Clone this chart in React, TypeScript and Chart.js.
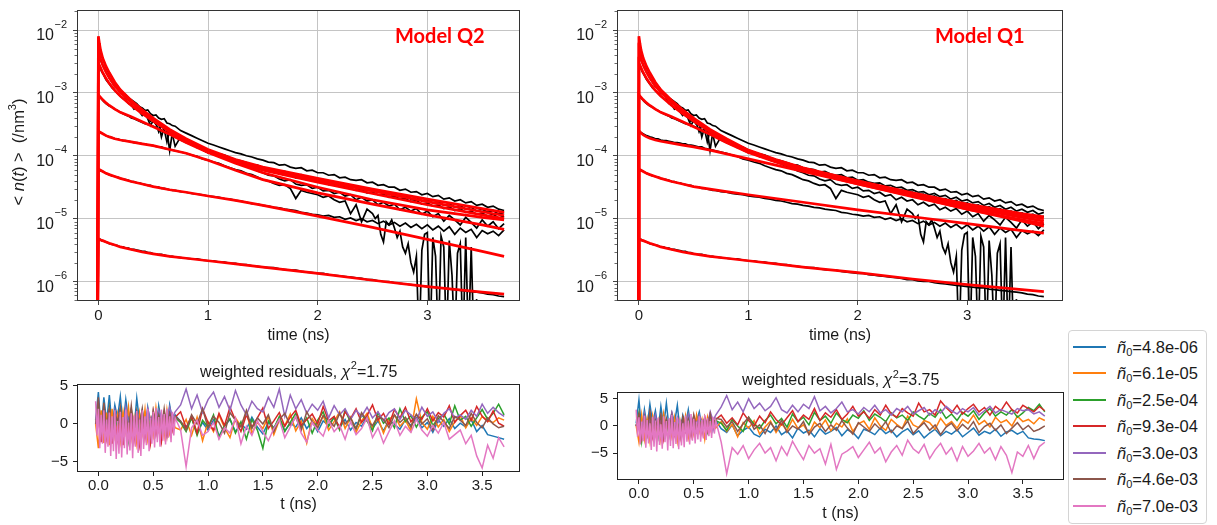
import React, { useEffect, useRef } from 'react';
import { Chart, registerables } from 'chart.js';

Chart.register(...registerables);

const FONT = "'Liberation Sans', Arial, Helvetica, sans-serif";
const INK = '#1a1a1a';

// ---------- series ----------
const seriesLabels = ['4.8e-06', '6.1e-05', '2.5e-04', '9.3e-04', '3.0e-03', '4.6e-03', '7.0e-03'];
const seriesColors = ['#1f77b4', '#ff7f0e', '#2ca02c', '#d62728', '#9467bd', '#8c564b', '#e377c2'];

// ---------- time grids (ns) ----------
const tLate = [0.75, 0.8, 0.85, 0.9, 0.95, 1, 1.05, 1.1, 1.15, 1.2, 1.25, 1.3, 1.35, 1.4, 1.45, 1.5, 1.55, 1.6, 1.65, 1.7,
  1.75, 1.8, 1.85, 1.9, 1.95, 2, 2.05, 2.1, 2.15, 2.2, 2.25, 2.3, 2.35, 2.4, 2.45, 2.5, 2.55, 2.6, 2.65, 2.7,
  2.75, 2.8, 2.85, 2.9, 2.95, 3, 3.05, 3.1, 3.15, 3.2, 3.25, 3.3, 3.35, 3.4, 3.45, 3.5, 3.55, 3.6, 3.65, 3.7];
const tObsEarly = [-0.01, 0, 0.01, 0.02, 0.03, 0.05, 0.07, 0.1, 0.125, 0.15, 0.175, 0.2, 0.225, 0.25, 0.275, 0.3,
  0.325, 0.35, 0.375, 0.4, 0.425, 0.45, 0.475, 0.5, 0.525, 0.55, 0.575, 0.6, 0.625, 0.65, 0.675, 0.7];
const tObs3Tail = [2.5, 2.525, 2.55, 2.575, 2.6, 2.625, 2.65, 2.675, 2.7, 2.725, 2.75, 2.775, 2.8, 2.825, 2.85, 2.875,
  2.9, 2.925, 2.95, 2.975, 3.0, 3.025, 3.05, 3.075, 3.1, 3.125, 3.15, 3.175, 3.2, 3.225, 3.25, 3.275, 3.3, 3.325,
  3.35, 3.375, 3.4, 3.425, 3.45, 3.475];
const tResEarly = [-0.025, 0, 0.025, 0.05, 0.075, 0.1, 0.125, 0.15, 0.175, 0.2, 0.225, 0.25, 0.275, 0.3, 0.325,
  0.35, 0.375, 0.4, 0.425, 0.45, 0.475, 0.5, 0.525, 0.55, 0.575, 0.6, 0.625, 0.65, 0.675, 0.7];
const tPinkEarly = [-0.025, -0.0125, 0, 0.0125, 0.025, 0.0375, 0.05, 0.0625, 0.075, 0.0875, 0.1, 0.1125, 0.125, 0.1375,
  0.15, 0.1625, 0.175, 0.1875, 0.2, 0.2125, 0.225, 0.2375, 0.25, 0.2625, 0.275, 0.2875, 0.3, 0.3125, 0.325, 0.3375,
  0.35, 0.3625, 0.375, 0.3875, 0.4, 0.4125, 0.425, 0.4375, 0.45, 0.4625, 0.475, 0.4875, 0.5, 0.5125, 0.525, 0.5375,
  0.55, 0.5625, 0.575, 0.5875, 0.6, 0.6125, 0.625, 0.6375, 0.65, 0.6625, 0.675, 0.6875, 0.7];
const tFit = [-0.008, 0, 0.01, 0.02, 0.04, 0.07, 0.1, 0.15, 0.2, 0.3, 0.4, 0.5, 0.65, 0.8, 1.0, 1.25, 1.5, 2.0, 2.5, 3.0, 3.5, 3.7];
const tObs = [...tObsEarly, ...tLate];
const tObs3 = [...tObsEarly, ...tLate.slice(0, 35), ...tObs3Tail];
const tRes = [...tResEarly, ...tLate];
const tResPink = [...tPinkEarly, ...tLate];

// ---------- measured <n(t)>, log10(/nm^3) ----------
const obs1 = [-7, -5.31, -5.33, -5.33, -5.35, -5.36, -5.37, -5.40, -5.41, -5.42, -5.43, -5.45, -5.45, -5.47, -5.47, -5.49, -5.49, -5.50, -5.51, -5.52, -5.52, -5.54, -5.54, -5.56, -5.56, -5.57, -5.57, -5.58, -5.59, -5.60, -5.60, -5.61,
  -5.62, -5.63, -5.64, -5.64, -5.66, -5.67, -5.67, -5.69, -5.69, -5.71, -5.71, -5.73, -5.73, -5.75, -5.76, -5.77, -5.78, -5.78, -5.80, -5.81,
  -5.82, -5.82, -5.84, -5.85, -5.86, -5.87, -5.87, -5.89, -5.90, -5.91, -5.92, -5.93, -5.94, -5.95, -5.97, -5.97, -5.99, -6.00, -6.00, -6.02,
  -6.03, -6.04, -6.05, -6.06, -6.07, -6.08, -6.09, -6.10, -6.10, -6.12, -6.13, -6.14, -6.15, -6.16, -6.17, -6.18, -6.20, -6.21, -6.23, -6.24];
const obs2 = [-7, -4.22, -4.23, -4.24, -4.24, -4.26, -4.28, -4.30, -4.32, -4.33, -4.34, -4.36, -4.37, -4.38, -4.39, -4.41, -4.41, -4.43, -4.43, -4.45, -4.46, -4.47, -4.47, -4.49, -4.50, -4.50, -4.52, -4.52, -4.53, -4.54, -4.55, -4.55,
  -4.57, -4.58, -4.60, -4.61, -4.62, -4.64, -4.65, -4.66, -4.68, -4.69, -4.71, -4.72, -4.74, -4.76, -4.77, -4.79, -4.80, -4.82, -4.83, -4.85,
  -4.86, -4.87, -4.90, -4.91, -4.93, -4.94, -4.96, -4.95, -4.98, -4.97, -5.01, -4.99, -5.03, -5.00, -5.05, -5.03, -5.08, -5.04, -5.10, -5.06,
  -5.12, -5.07, -5.14, -5.09, -5.16, -5.10, -5.18, -5.12, -5.20, -5.13, -5.25, -5.15, -5.22, -5.17, -5.30, -5.19, -5.24, -5.20, -5.27, -5.18];
const obs3 = [-7, -3.60, -3.62, -3.63, -3.64, -3.66, -3.68, -3.70, -3.71, -3.73, -3.73, -3.75, -3.76, -3.76, -3.77, -3.78, -3.79, -3.79, -3.80, -3.81, -3.81, -3.83, -3.83, -3.84, -3.85, -3.86, -3.86, -3.88, -3.89, -3.90, -3.91, -3.92,
  -3.94, -3.96, -3.99, -4.01, -4.05, -4.07, -4.10, -4.12, -4.16, -4.19, -4.22, -4.24, -4.28, -4.30, -4.34, -4.38, -4.40, -4.44, -4.47, -4.46,
  -4.52, -4.68, -4.55, -4.58, -4.60, -4.62, -4.66, -4.64, -4.70, -4.74, -4.72, -4.92, -4.78, -5.05, -4.85,
  -4.92, -5.00, -4.95, -5.25, -5.37, -5.05, -5.10, -5.02, -5.15, -5.30, -5.20, -5.45, -5.55, -5.40, -5.70, -5.85, -5.60, -7, -5.50, -5.25,
  -5.22, -7, -5.30, -5.60, -7, -5.28, -5.45, -7, -5.35, -5.90, -7, -5.55, -5.40, -7, -5.30, -7, -5.45, -7, -6.28, null];
const obs4 = [-7, -3.03, -3.06, -3.08, -3.10, -3.14, -3.17, -3.21, -3.23, -3.26, -3.28, -3.31, -3.33, -3.35, -3.37, -3.40, -3.41, -3.43, -3.45, -3.47, -3.49, -3.50, -3.51, -3.53, -3.55, -3.57, -3.59, -3.62, -3.63, -3.65, -3.68, -3.70,
  -3.75, -3.79, -3.83, -3.86, -3.91, -3.95, -3.97, -4.01, -4.03, -4.07, -4.10, -4.13, -4.17, -4.20, -4.24, -4.27, -4.31, -4.32, -4.37, -4.40,
  -4.38, -4.45, -4.47, -4.46, -4.52, -4.50, -4.56, -4.55, -4.60, -4.58, -4.64, -4.62, -4.70, -4.66, -4.72, -4.70, -4.78, -4.74, -4.80, -4.77,
  -4.86, -4.82, -4.88, -4.84, -4.93, -4.88, -4.97, -4.92, -5.04, -4.95, -5.02, -5.10, -4.98, -5.06, -5.15, -5.02, -5.12, -5.05, -5.16, -5.08];
const obs5 = [-7, -2.54, -2.58, -2.62, -2.66, -2.72, -2.79, -2.86, -2.92, -2.96, -3.01, -3.05, -3.09, -3.11, -3.17, -3.19, -3.26, -3.24, -3.30, -3.36, -3.33, -3.41, -3.52, -3.44, -3.50, -3.48, -3.70, -3.55, -3.60, -3.92, -3.63, -3.70,
  -3.72, -3.79, -3.80, -3.87, -3.88, -3.95, -3.96, -4.01, -4.02, -4.07, -4.08, -4.12, -4.14, -4.16, -4.20, -4.21, -4.25, -4.26, -4.28, -4.31,
  -4.30, -4.35, -4.34, -4.38, -4.39, -4.42, -4.41, -4.46, -4.45, -4.49, -4.50, -4.52, -4.55, -4.54, -4.59, -4.58, -4.62, -4.61, -4.66, -4.64,
  -4.69, -4.68, -4.73, -4.71, -4.77, -4.75, -4.80, -4.78, -4.84, -4.81, -4.87, -4.84, -4.90, -4.88, -4.93, -4.91, -4.96, -4.93, -4.99, -4.96];
const obs6 = [-7, -2.36, -2.42, -2.48, -2.52, -2.60, -2.67, -2.77, -2.83, -2.90, -2.93, -3.00, -3.03, -3.08, -3.10, -3.16, -3.18, -3.24, -3.22, -3.30, -3.33, -3.36, -3.45, -3.42, -3.48, -3.62, -3.52, -3.58, -3.78, -3.60, -3.66, -3.85,
  -3.70, -3.75, -3.78, -3.84, -3.86, -3.91, -3.94, -3.97, -3.99, -4.03, -4.06, -4.08, -4.11, -4.14, -4.15, -4.19, -4.21, -4.22, -4.26, -4.25,
  -4.29, -4.31, -4.30, -4.35, -4.34, -4.39, -4.38, -4.42, -4.44, -4.43, -4.48, -4.47, -4.51, -4.50, -4.55, -4.54, -4.58, -4.57, -4.62, -4.60,
  -4.65, -4.63, -4.69, -4.66, -4.72, -4.70, -4.75, -4.73, -4.79, -4.76, -4.82, -4.79, -4.85, -4.82, -4.88, -4.85, -4.90, -4.87, -4.93, -4.90];
const obs7 = [-7, -2.12, -2.25, -2.35, -2.42, -2.50, -2.60, -2.70, -2.77, -2.84, -2.89, -2.95, -3.00, -3.03, -3.08, -3.11, -3.14, -3.17, -3.22, -3.24, -3.28, -3.27, -3.33, -3.36, -3.35, -3.40, -3.42, -3.41, -3.48, -3.49, -3.52, -3.53,
  -3.60, -3.64, -3.68, -3.72, -3.76, -3.80, -3.83, -3.86, -3.89, -3.92, -3.95, -3.97, -4.00, -4.02, -4.05, -4.07, -4.10, -4.11, -4.15, -4.14,
  -4.18, -4.20, -4.19, -4.24, -4.23, -4.27, -4.27, -4.31, -4.30, -4.35, -4.34, -4.38, -4.39, -4.38, -4.43, -4.42, -4.47, -4.46, -4.50, -4.50,
  -4.55, -4.53, -4.58, -4.57, -4.62, -4.60, -4.65, -4.63, -4.69, -4.67, -4.72, -4.70, -4.75, -4.73, -4.79, -4.77, -4.82, -4.80, -4.85, -4.87];

// ---------- fitted curves, log10(/nm^3) ----------
const fitQ2_1 = [-7, -5.32, -5.33, -5.34, -5.35, -5.37, -5.39, -5.42, -5.45, -5.49, -5.53, -5.56, -5.60, -5.63, -5.67, -5.72, -5.77, -5.87, -5.98, -6.08, -6.17, -6.20];
const fitQ2_2 = [-7, -4.21, -4.22, -4.23, -4.25, -4.28, -4.30, -4.33, -4.36, -4.41, -4.45, -4.49, -4.54, -4.58, -4.64, -4.71, -4.79, -4.96, -5.14, -5.33, -5.52, -5.60];
const fitQ2_3 = [-7, -3.60, -3.62, -3.63, -3.65, -3.68, -3.70, -3.73, -3.75, -3.78, -3.81, -3.84, -3.90, -3.96, -4.07, -4.23, -4.38, -4.59, -4.77, -4.94, -5.10, -5.17];
const fitQ2_4 = [-7, -3.03, -3.05, -3.07, -3.11, -3.16, -3.20, -3.26, -3.31, -3.38, -3.46, -3.54, -3.66, -3.79, -3.95, -4.12, -4.27, -4.50, -4.70, -4.86, -4.98, -5.02];
const fitQ2_5 = [-7, -2.52, -2.56, -2.60, -2.68, -2.77, -2.85, -2.96, -3.05, -3.20, -3.33, -3.45, -3.62, -3.77, -3.94, -4.10, -4.23, -4.42, -4.60, -4.78, -4.94, -5.00];
const fitQ2_6 = [-7, -2.34, -2.40, -2.46, -2.56, -2.67, -2.76, -2.89, -2.99, -3.15, -3.29, -3.42, -3.60, -3.75, -3.92, -4.08, -4.20, -4.39, -4.56, -4.73, -4.89, -4.95];
const fitQ2_7 = [-7, -2.10, -2.22, -2.32, -2.45, -2.58, -2.68, -2.83, -2.95, -3.12, -3.27, -3.40, -3.58, -3.73, -3.90, -4.06, -4.18, -4.36, -4.53, -4.69, -4.84, -4.90];

const fitQ1_1 = [-7, -5.32, -5.33, -5.34, -5.35, -5.37, -5.39, -5.42, -5.45, -5.49, -5.53, -5.56, -5.60, -5.63, -5.67, -5.72, -5.77, -5.86, -5.96, -6.05, -6.13, -6.16];
const fitQ1_2 = [-7, -4.21, -4.22, -4.23, -4.25, -4.28, -4.30, -4.33, -4.36, -4.41, -4.45, -4.49, -4.53, -4.57, -4.62, -4.68, -4.74, -4.86, -4.97, -5.08, -5.19, -5.23];
const fitQ1_3 = [-7, -3.60, -3.62, -3.64, -3.67, -3.70, -3.72, -3.75, -3.77, -3.80, -3.83, -3.86, -3.91, -3.97, -4.05, -4.15, -4.25, -4.45, -4.64, -4.85, -5.04, -5.12];
const fitQ1_4 = [-7, -3.03, -3.05, -3.07, -3.11, -3.16, -3.20, -3.26, -3.31, -3.38, -3.46, -3.54, -3.66, -3.79, -3.95, -4.10, -4.23, -4.45, -4.65, -4.85, -5.02, -5.08];
const fitQ1_5 = [-7, -2.52, -2.56, -2.60, -2.68, -2.77, -2.85, -2.96, -3.05, -3.20, -3.33, -3.45, -3.62, -3.77, -3.93, -4.08, -4.21, -4.43, -4.63, -4.82, -4.98, -5.04];
const fitQ1_6 = [-7, -2.34, -2.40, -2.46, -2.56, -2.67, -2.76, -2.89, -2.99, -3.15, -3.29, -3.42, -3.60, -3.75, -3.92, -4.07, -4.20, -4.42, -4.61, -4.79, -4.95, -5.00];
const fitQ1_7 = [-7, -2.10, -2.22, -2.32, -2.45, -2.58, -2.68, -2.83, -2.95, -3.12, -3.27, -3.40, -3.58, -3.73, -3.91, -4.06, -4.19, -4.40, -4.59, -4.77, -4.92, -4.97];

// ---------- weighted residuals, model Q2 (chi2 = 1.75) ----------
const resQ2_1 = [0.5, 4.2, -1.0, 3.5, 0.2, 3.8, -0.5, 2.5, 0.8, 3.6, -0.2, 3.2, 0.5, 2.0, -0.8, 3.4, 0.3, 1.8, -1.2, 2.2, 0.0, 1.5, -1.0, 2.4, 0.2, 1.6, -0.6, 2.5, 0.4, 1.2,
  0.3, -0.5, 0.8, -1.2, 0.2, -0.8, 0.5, -1.6, -0.3, 0.6, -1.0, 0.0, -0.7, 0.9, -0.4, -1.3, 0.2, -0.5, 0.7, -0.9,
  0.1, -0.4, 0.8, -0.6, 0.3, -1.0, 0.4, -0.2, 0.9, -0.5, 0.6, -0.8, 0.2, -0.3, 1.0, -0.6, 0.4, -0.9, 0.5, 0.0,
  -0.7, 0.6, -0.2, 0.8, -0.5, 0.2, -1.1, 0.5, -0.3, 0.7, -0.6, 0.1, -0.4, 0.6, -1.0, -0.2, -1.4, -1.6, -1.8, -2.0];
const resQ2_2 = [0.0, -3.2, 1.8, -2.5, 1.5, -2.8, 2.0, -1.5, 1.2, -2.2, 1.6, -1.0, 2.2, -1.8, 0.8, -2.5, 1.4, -1.2, 1.9, -2.0, 0.6, -1.5, 2.1, -0.8, 1.0, -1.6, 1.8, -1.2, 0.5, -0.5,
  -0.8, 0.6, -1.5, 0.9, -2.2, 0.3, -1.0, 1.2, -0.5, -1.8, 0.8, -0.3, 1.5, -1.2, 0.2, -0.6, 1.0, -1.4, 0.5, -0.2,
  1.3, -0.9, 0.4, -2.5, 0.7, -0.4, 1.1, -0.8, 0.3, 1.6, -0.6, 0.9, -1.1, 0.4, 1.4, -0.5, 0.8, -1.2, 0.6, 1.2,
  -0.3, 0.5, -0.9, 3.3, 0.2, -0.7, 1.0, -0.4, 0.6, -1.0, 0.3, 1.1, -0.5, 0.8, -0.2, 1.0, 0.4, 0.2, 0.8, 0.5];
const resQ2_3 = [0.0, 2.2, -2.0, 1.5, -1.2, 2.0, -1.8, 1.0, -0.5, 1.8, -1.5, 0.8, -2.2, 1.2, -0.8, 1.6, -1.8, 0.5, -1.0, 1.4, -1.6, 0.9, -0.6, 1.7, -1.2, 0.6, -1.4, 1.1, -0.4, 0.8,
  0.2, -1.0, 0.8, -1.5, 0.5, -0.4, 1.2, -1.8, -0.2, 0.7, -1.2, 0.3, -2.0, 0.6, -0.8, -3.2, 0.4, -0.6, 1.0, -1.0,
  0.2, 1.4, -0.5, 0.8, -1.2, 0.5, 1.6, -0.3, 0.9, -0.8, 1.8, 0.2, -0.6, 1.2, 0.4, -0.9, 1.5, 0.1, 0.8, -0.5,
  2.0, 0.3, 1.1, -0.4, 0.9, 1.6, -0.2, 0.7, 1.3, 0.0, 2.4, 0.5, 1.0, -0.3, 0.8, 1.9, 0.6, 1.4, 2.6, 1.2];
const resQ2_4 = [0.0, 1.5, -2.4, 1.0, -1.8, 2.0, -2.6, 0.5, -2.0, 1.4, -2.8, 0.8, -1.5, 1.8, -2.2, 0.3, -2.7, 1.2, -1.9, 0.6, -2.5, 1.5, -1.4, 0.4, -2.3, 1.0, -1.6, 1.6, -0.8, 0.9,
  1.6, -0.5, 1.0, -1.2, 2.0, 0.2, -0.8, 1.4, -0.2, 2.2, 0.5, -1.0, 1.2, -0.4, 0.8, 2.1, -0.6, 0.4, 1.5, -0.3,
  0.9, 1.8, -0.2, 0.6, 1.3, 0.0, 2.3, 0.4, 1.0, -0.5, 1.6, 0.7, 2.0, 0.2, 1.1, 2.5, 0.5, 1.4, -0.1, 1.9,
  0.8, 2.2, 0.3, 1.2, 0.6, 2.0, 0.4, 1.5, 0.9, 2.4, 0.2, 1.1, 1.8, 0.5, 2.3, 1.0, 0.3, 1.7, 0.1, -0.3];
const resQ2_5 = [0.0, 1.2, -0.8, 2.0, -0.5, 1.5, -1.0, 1.8, 0.2, 1.0, -0.6, 2.2, 0.0, 1.4, -0.8, 1.7, 0.3, 0.9, -0.4, 2.0, 0.5, 1.2, -0.2, 1.8, 0.6, 1.4, 0.1, 2.2, 0.8, 1.6,
  2.5, 4.6, 2.0, 3.8, 1.5, 3.2, 4.2, 2.2, 3.6, 1.8, 4.4, 2.5, 1.2, 3.0, 2.0, 1.6, 3.5, 2.2, 4.6, 1.0,
  3.8, 2.0, 3.2, 1.4, 2.6, 1.8, 3.0, 0.8, 2.4, 1.2, 2.0, 0.6, 1.8, 1.0, 2.2, 0.8, 1.6, 0.4, 1.5, 2.0,
  0.6, 1.8, 1.2, 0.5, 2.2, 1.0, 1.6, 0.3, 1.4, 2.0, 0.8, 1.2, 0.6, 1.8, 1.0, 2.6, 1.4, 2.2, 1.5, 1.0];
const resQ2_6 = [0.0, 3.5, -1.5, 2.8, -0.5, 2.0, -2.0, 1.5, 0.2, 2.2, -1.6, 1.0, -0.8, 2.4, -1.2, 1.6, -0.4, 2.0, -1.0, 0.8, -1.4, 1.8, 0.0, 1.2, -0.6, 2.0, -0.8, 1.4, 0.2, 1.0,
  0.4, -0.8, 1.2, 0.0, 2.0, -0.5, 1.0, 0.2, -1.2, 1.5, 0.5, -0.4, 1.8, -0.6, 0.8, 0.0, 1.2, -1.0, 0.6, 1.4,
  -0.2, 0.9, -0.8, 1.6, 0.3, -0.5, 1.1, 0.5, -0.3, 1.4, 0.0, 0.8, -0.6, 1.5, 0.4, -0.2, 1.0, 0.6, -0.5, 1.2,
  0.2, 0.9, -0.4, 1.3, 0.0, 0.7, -0.8, 1.1, 0.3, -0.6, 1.0, 0.5, -0.2, 1.4, 0.2, -0.5, 0.8, 0.0, -0.5, -0.3];
const resQ2_7 = [3.0, -1.5, 2.0, -3.2, 1.2, -2.6, 1.8, -3.8, 0.6, -3.0, 1.5, -4.2, 1.0, -3.6, 1.8, -4.6, 0.4, -3.9, 1.6, -4.4,
  0.9, -3.2, 1.9, -4.0, 0.2, -3.5, 1.4, -4.5, 1.1, -3.0, 1.7, -3.8, 0.6, -4.2, 1.8, -3.3, 1.0, -2.8, 2.0, -3.6,
  0.8, -2.6, 1.6, -3.1, 2.1, -2.4, 0.9, -3.0, 1.9, -2.2, 1.3, -2.7, 2.0, -1.8, 1.0, -2.4, 1.6, -1.5, 0.8,
  -0.8, -5.6, -0.5, 0.5, -1.5, -1.0, 0.2, -2.0, -0.5, -1.2, 0.8, -2.6, -0.3, -1.5, 0.4, -1.0, -2.2, -0.6, 0.6, -1.8,
  -0.4, 1.0, -1.2, -2.4, 0.2, -0.8, -1.6, 0.5, -1.0, -0.2, -2.0, 0.3, -1.4, -0.6, 0.8, -1.8, -0.5, -2.5, -1.0, 0.4,
  -1.5, -0.3, -1.1, 0.6, -0.8, -1.6, -0.2, -1.2, 0.2, -2.0, -1.4, -0.8, -2.6, -1.5, -4.2, -5.8, -2.8, -4.5, -1.8, -3.0];

// ---------- weighted residuals, model Q1 (chi2 = 3.75) ----------
const resQ1_1 = [0.5, 4.8, -1.0, 3.0, -0.2, 4.0, 0.5, 2.8, -0.8, 3.6, 0.0, 4.2, -0.5, 2.4, 0.6, 3.8, -1.0, 2.0, 0.2, 3.0, -0.6, 1.8, 0.8, 2.6, -0.4, 1.4, 0.0, 2.2, -0.8, 1.0,
  -0.5, -1.2, 0.2, -1.8, -0.8, -0.2, -1.5, -2.0, -0.6, -1.2, 0.0, -1.6, -0.9, -2.2, -0.4, -1.3, -0.8, -2.0, -0.5, -1.5,
  -1.0, -0.3, -1.8, -0.7, -1.2, -2.3, -0.6, -1.0, -1.6, -0.4, -1.4, -0.8, -2.0, -1.1, -0.5, -1.6, -0.9, -2.2, -1.3, -0.6,
  -1.8, -1.0, -1.5, -0.7, -2.0, -1.2, -0.4, -1.7, -1.0, -1.4, -0.6, -1.9, -1.1, -0.8, -1.5, -1.0, -2.2, -2.4, -2.5, -2.7];
const resQ1_2 = [0.0, -3.0, 2.0, -2.4, 1.2, -2.8, 1.8, -1.6, 1.0, -2.6, 2.2, -1.2, 0.8, -2.0, 1.5, -2.8, 1.0, -1.4, 1.8, -2.2, 0.4, -1.6, 2.0, -1.0, 1.2, -2.4, 1.6, -0.8, 1.0, -0.4,
  0.8, -1.0, 0.3, -2.0, 0.6, -0.4, 1.0, -1.5, -0.2, 0.9, -1.2, 0.4, -0.8, 1.2, -0.5, 0.2, -1.4, 0.7, -0.3, 1.1,
  -0.9, 0.5, -0.2, 1.3, -1.0, 0.4, 0.9, -0.6, 1.5, 0.0, -0.8, 1.2, 0.3, -0.5, 1.8, 0.2, -0.3, 1.0, 0.6, -0.6,
  1.4, 0.1, 0.8, -0.4, 1.2, 0.5, 2.0, 0.3, 1.0, -0.2, 1.6, 0.6, 1.1, 0.0, 1.8, 0.8, 1.2, 0.4, 1.5, 1.0];
const resQ1_3 = [0.0, 2.4, -2.8, 1.5, -1.6, 2.0, -1.0, 1.2, -2.0, 1.8, -0.6, 1.0, -1.8, 1.6, -1.2, 0.8, -1.5, 1.4, -0.8, 2.0, -1.4, 0.6, -1.0, 1.6, -0.5, 1.2, -1.2, 0.8, -0.2, 1.0,
  0.5, -0.8, 1.2, 0.0, -1.0, 1.6, 0.3, -0.5, 1.0, 2.0, 0.4, 1.4, -0.2, 2.2, 0.8, 1.6, 0.2, 2.5, 1.0, 1.8,
  0.5, 2.4, 1.2, 0.6, 2.0, 1.4, 2.8, 1.0, 2.2, 1.6, 0.8, 2.4, 1.5, 2.0, 1.0, 2.6, 1.8, 1.2, 2.3, 1.6,
  3.0, 1.4, 2.2, 1.0, 2.5, 1.8, 2.8, 1.2, 2.4, 3.2, 1.8, 2.6, 2.0, 3.0, 1.6, 2.4, 3.4, 2.8, 4.0, 2.6];
const resQ1_4 = [0.0, 1.8, -2.2, 1.2, -1.5, 2.2, -2.0, 0.8, -1.2, 1.6, -2.4, 1.0, -1.0, 2.0, -1.6, 0.6, -2.2, 1.4, -1.0, 0.8, -1.8, 1.8, -0.6, 1.0, -1.4, 1.6, -0.8, 2.2, 0.4, 1.2,
  2.0, 0.5, 1.5, 0.2, 2.4, 1.0, 0.0, 1.8, 0.6, 2.6, 1.2, 0.2, 1.5, 2.8, 0.8, 2.0, 1.2, 3.2, 1.0, 2.4,
  1.6, 3.0, 1.2, 2.2, 3.6, 1.8, 2.6, 1.4, 3.0, 2.0, 3.8, 2.2, 1.6, 3.2, 2.4, 1.8, 4.2, 2.6, 3.0, 2.0,
  4.6, 3.4, 2.4, 3.8, 2.2, 3.2, 4.0, 2.6, 3.4, 2.0, 3.6, 2.8, 4.4, 3.0, 2.4, 3.8, 3.2, 2.6, 3.6, 2.8];
const resQ1_5 = [0.0, 1.6, -0.6, 2.2, -0.8, 1.4, 0.0, 2.0, -1.0, 1.8, -0.4, 1.2, 0.4, 2.4, -0.5, 1.6, 0.2, 1.0, -0.8, 2.2, 0.5, 1.4, -0.2, 2.0, 0.8, 1.2, 0.2, 2.6, 1.0, 2.0,
  3.5, 5.6, 3.0, 4.4, 2.6, 5.0, 3.2, 4.2, 2.8, 3.6, 5.2, 3.0, 2.4, 3.8, 2.6, 4.0, 3.2, 5.4, 2.8, 3.6,
  2.4, 3.2, 4.4, 2.6, 3.0, 2.2, 3.4, 2.6, 3.8, 2.4, 3.0, 2.0, 3.2, 2.6, 3.6, 2.2, 2.8, 3.4, 2.0, 3.0,
  2.4, 3.6, 2.8, 2.2, 3.2, 2.6, 3.4, 2.0, 2.8, 3.6, 2.4, 3.0, 2.6, 2.2, 3.2, 2.8, 3.0, 2.2, 2.6, 1.8];
const resQ1_6 = [0.0, 2.2, -2.0, 1.6, -1.0, 2.4, -1.6, 1.0, -0.4, 2.0, -1.8, 1.4, -0.8, 1.8, -1.2, 0.6, -2.0, 1.6, -0.6, 1.2, -1.4, 2.0, -0.8, 1.0, -1.0, 1.6, 0.0, 2.2, -0.4, 1.4,
  1.2, -0.2, 0.8, -1.0, 0.4, 1.6, -0.6, 0.2, -1.4, 0.6, -0.8, 1.0, -1.2, 0.0, -0.6, 0.8, -1.6, -0.2, 0.5, -1.0,
  0.2, -0.8, 1.0, -0.4, -1.5, 0.6, -0.2, -1.0, 0.4, -0.6, 0.8, -1.2, 0.0, -0.5, 0.9, -1.4, -0.3, 0.6, -0.8, 0.2,
  -1.6, -0.2, 0.5, -0.9, 0.3, -0.6, 0.8, -1.2, -0.1, 0.5, -0.8, 0.2, -1.4, -0.4, 0.6, -0.7, 0.1, -1.0, -0.6, 0.0];
const resQ1_7 = [3.0, -2.0, 1.6, -3.4, 0.8, -2.8, 1.9, -4.0, 1.1, -3.2, 0.5, -4.4, 1.7, -3.8, 1.0, -4.7, 1.5, -3.5, 0.3, -4.2,
  1.8, -3.0, 0.9, -4.5, 1.4, -3.7, 2.0, -4.1, 0.7, -3.3, 1.6, -4.3, 1.2, -3.6, 0.5, -3.9, 1.9, -2.9, 1.0, -3.4,
  2.2, -2.7, 1.3, -3.2, 0.8, -2.5, 1.8, -2.9, 1.1, -2.3, 2.0, -2.6, 1.4, -1.9, 0.9, -2.2, 1.7, -1.4, 1.0,
  -3.0, -8.8, -4.0, -5.2, -3.6, -6.0, -4.4, -3.2, -5.0, -4.0, -6.4, -3.8, -5.4, -2.8, -4.6, -6.2, -3.6, -5.0, -4.2, -7.0,
  -3.4, -8.0, -5.2, -4.6, -3.8, -5.8, -4.4, -3.0, -5.0, -4.0, -6.6, -4.8, -3.6, -5.4, -2.6, -4.2, -5.0, -3.4, -6.0, -4.4,
  -3.2, -5.2, -4.0, -6.4, -3.8, -5.6, -4.6, -3.2, -5.0, -4.0, -6.2, -3.8, -5.4, -8.6, -4.8, -5.6, -3.6, -6.0, -3.8, -3.0];

// ---------- axis ticks ----------
const xTicksTop = [0, 1, 2, 3];
const yDecades = [-2, -3, -4, -5, -6];
const xTicksRes = [0, 0.5, 1, 1.5, 2, 2.5, 3, 3.5];
const yTicksRes = [-5, 0, 5];

const obsAll = [obs1, obs2, obs3, obs4, obs5, obs6, obs7];
const obsTimes = [tObs, tObs, tObs3, tObs, tObs, tObs, tObs];
const fitsQ2 = [fitQ2_1, fitQ2_2, fitQ2_3, fitQ2_4, fitQ2_5, fitQ2_6, fitQ2_7];
const fitsQ1 = [fitQ1_1, fitQ1_2, fitQ1_3, fitQ1_4, fitQ1_5, fitQ1_6, fitQ1_7];
const resQ2 = [resQ2_1, resQ2_2, resQ2_3, resQ2_4, resQ2_5, resQ2_6, resQ2_7];
const resQ1 = [resQ1_1, resQ1_2, resQ1_3, resQ1_4, resQ1_5, resQ1_6, resQ1_7];
const resTimes = [tRes, tRes, tRes, tRes, tRes, tRes, tResPink];

const logPts = (ts: number[], vs: (number | null)[]) =>
  ts.map((t, i) => ({ x: t, y: vs[i] == null ? null : Math.pow(10, vs[i] as number) }));
const linPts = (ts: number[], vs: (number | null)[]) =>
  ts.map((t, i) => ({ x: t, y: vs[i] == null ? null : vs[i] }));

// ---------- plugins ----------
const framePlugin = {
  id: 'frame',
  afterDraw(chart: any, _a: any, opts: any) {
    const { ctx, chartArea: a } = chart;
    ctx.save();
    ctx.strokeStyle = (opts && opts.color) || '#262626';
    ctx.lineWidth = 1;
    const l = Math.round(a.left), t = Math.round(a.top), r = Math.round(a.right), b = Math.round(a.bottom);
    ctx.strokeRect(l + 0.5, t + 0.5, r - l - 1, b - t - 1);
    ctx.restore();
  },
};

const logLabelPlugin = {
  id: 'logLabels',
  afterDraw(chart: any) {
    const ys = chart.scales.y;
    const ctx = chart.ctx;
    const xr = chart.chartArea.left - 10;
    ctx.save();
    ctx.fillStyle = INK;
    ctx.textAlign = 'right';
    ctx.textBaseline = 'alphabetic';
    yDecades.forEach((e) => {
      const y = ys.getPixelForValue(Math.pow(10, e));
      const sup = '\u2212' + Math.abs(e);
      ctx.font = `11px ${FONT}`;
      const sw = ctx.measureText(sup).width;
      ctx.fillText(sup, xr, y - 2.5);
      ctx.font = `16px ${FONT}`;
      ctx.fillText('10', xr - sw - 0.5, y + 10);
    });
    ctx.restore();
  },
};

const minorTickPlugin = {
  id: 'minorTicks',
  afterDraw(chart: any) {
    const ys = chart.scales.y;
    const ctx = chart.ctx;
    const a = chart.chartArea;
    ctx.save();
    ctx.strokeStyle = '#444';
    ctx.lineWidth = 0.8;
    for (let e = -7; e <= -2; e++) {
      for (let k = 2; k <= 9; k++) {
        const v = k * Math.pow(10, e);
        if (v < ys.min || v > ys.max) continue;
        const y = Math.round(ys.getPixelForValue(v)) + 0.5;
        ctx.beginPath();
        ctx.moveTo(a.left - 2.5, y);
        ctx.lineTo(a.left, y);
        ctx.stroke();
      }
    }
    ctx.restore();
  },
};

// rotated y-axis title "< n(t) >  (/nm^3)" with italic n, t and superscript 3
const yTitlePlugin = {
  id: 'yTitle',
  afterDraw(chart: any, _a: any, opts: any) {
    if (!opts || !opts.show) return;
    const ctx = chart.ctx;
    const n = `16.5px ${FONT}`;
    const it = `italic 16.5px ${FONT}`;
    const sm = `11px ${FONT}`;
    const parts = [
      { t: '< ', f: n, dy: 0 }, { t: 'n', f: it, dy: 0 }, { t: '(', f: n, dy: 0 }, { t: 't', f: it, dy: 0 },
      { t: ') >  (/nm', f: n, dy: 0 }, { t: '3', f: sm, dy: -6 }, { t: ')', f: n, dy: 0 },
    ];
    ctx.save();
    let total = 0;
    const widths = parts.map((p) => { ctx.font = p.f; const w = ctx.measureText(p.t).width; total += w; return w; });
    ctx.translate(opts.x, opts.y);
    ctx.rotate(-Math.PI / 2);
    ctx.fillStyle = INK;
    ctx.textBaseline = 'middle';
    ctx.textAlign = 'left';
    let x = -total / 2;
    parts.forEach((p, i) => { ctx.font = p.f; ctx.fillText(p.t, x, p.dy); x += widths[i]; });
    ctx.restore();
  },
};

const chiTitlePlugin = {
  id: 'chiTitle',
  afterDraw(chart: any, _a: any, opts: any) {
    const { ctx, chartArea: a } = chart;
    const cx = (a.left + a.right) / 2;
    const cy = opts.y;
    const p1 = 'weighted residuals, ';
    const p3 = '=' + opts.chi;
    const f = `16px ${FONT}`;
    const fi = `italic 16px ${FONT}`;
    const fs = `11px ${FONT}`;
    ctx.save();
    ctx.fillStyle = INK;
    ctx.textBaseline = 'middle';
    ctx.textAlign = 'left';
    ctx.font = f;
    const w1 = ctx.measureText(p1).width;
    const w3 = ctx.measureText(p3).width;
    ctx.font = fi;
    const w2 = ctx.measureText('\u03c7').width;
    ctx.font = fs;
    const ws = ctx.measureText('2').width;
    let x = cx - (w1 + w2 + ws + w3) / 2;
    ctx.font = f; ctx.fillText(p1, x, cy); x += w1;
    ctx.font = fi; ctx.fillText('\u03c7', x, cy); x += w2 + 0.5;
    ctx.font = fs; ctx.fillText('2', x, cy - 6); x += ws;
    ctx.font = f; ctx.fillText(p3, x, cy);
    ctx.restore();
  },
};

// ---------- configs ----------
function topConfig(fits: number[][], xMin: number, xMax: number, rightPad: number, showYTitle: boolean): any {
  const grid = { color: '#c4c4c4', lineWidth: 1, drawTicks: true, tickLength: 4, tickColor: '#444', tickWidth: 1 };
  return {
    type: 'line',
    data: {
      datasets: [
        ...fits.map((f) => ({
          data: logPts(tFit, f), borderColor: '#ff0000', borderWidth: 2.7, pointRadius: 0, order: 0, clip: 0,
        })),
        ...obsAll.map((o, i) => ({
          data: logPts(obsTimes[i], o), borderColor: '#000000', borderWidth: 1.7, pointRadius: 0, order: 1, clip: 0,
        })),
      ],
    },
    options: {
      animation: false,
      responsive: false,
      devicePixelRatio: 1,
      events: [],
      layout: { padding: { left: 0, top: 3, right: rightPad, bottom: 0 } },
      plugins: {
        legend: { display: false }, tooltip: { enabled: false }, frame: { color: '#333333' },
        yTitle: { show: showYTitle, x: 19, y: 152 },
      },
      scales: {
        x: {
          type: 'linear', min: xMin, max: xMax,
          afterBuildTicks: (s: any) => { s.ticks = xTicksTop.map((v) => ({ value: v })); },
          afterFit: (s: any) => { s.height = 49; },
          grid,
          border: { display: false },
          ticks: { color: INK, font: { family: FONT, size: 15 }, padding: 2, maxRotation: 0, autoSkip: false, callback: (v: any) => String(v) },
          title: { display: true, text: 'time (ns)', color: INK, font: { family: FONT, size: 16 }, padding: { top: 0, bottom: 4.4 } },
        },
        y: {
          type: 'logarithmic', min: Math.pow(10, -6.31), max: Math.pow(10, -1.685),
          afterBuildTicks: (s: any) => { s.ticks = yDecades.map((e) => ({ value: Math.pow(10, e) })); },
          afterFit: (s: any) => { s.width = 77; },
          grid,
          border: { display: false },
          ticks: { autoSkip: false, callback: () => '' },
        },
      },
    },
    plugins: [framePlugin, logLabelPlugin, minorTickPlugin, yTitlePlugin],
  };
}

function resConfig(series: number[][], o: any): any {
  const grid = { display: true, drawOnChartArea: false, drawTicks: true, tickLength: 4, tickColor: '#222', tickWidth: 1 };
  return {
    type: 'line',
    data: {
      datasets: series.map((s, i) => ({
        data: linPts(resTimes[i], s), borderColor: seriesColors[i], borderWidth: 1.5, pointRadius: 0, order: 7 - i, clip: 0,
      })),
    },
    options: {
      animation: false,
      responsive: false,
      devicePixelRatio: 1,
      events: [],
      layout: { padding: { left: 0, top: o.padTop, right: o.rightPad, bottom: 0 } },
      plugins: {
        legend: { display: false }, tooltip: { enabled: false },
        frame: { color: '#222222' },
        chiTitle: { y: o.titleY, chi: o.chi },
      },
      scales: {
        x: {
          type: 'linear', min: o.xMin, max: o.xMax,
          afterBuildTicks: (s: any) => { s.ticks = xTicksRes.map((v) => ({ value: v })); },
          afterFit: (s: any) => { s.height = o.xHeight; },
          grid,
          border: { display: false },
          ticks: { color: INK, font: { family: FONT, size: 15 }, padding: 1, maxRotation: 0, autoSkip: false, callback: (v: any) => Number(v).toFixed(1) },
          title: { display: true, text: 't (ns)', color: INK, font: { family: FONT, size: 16 }, padding: { top: 0, bottom: o.titlePb } },
        },
        y: {
          type: 'linear', min: o.yMin, max: o.yMax,
          afterBuildTicks: (s: any) => { s.ticks = yTicksRes.map((v) => ({ value: v })); },
          afterFit: (s: any) => { s.width = 77; },
          grid,
          border: { display: false },
          ticks: { color: INK, font: { family: FONT, size: 15 }, padding: 5, autoSkip: false, callback: (v: any) => (v < 0 ? '\u2212' + Math.abs(v) : String(v)) },
        },
      },
    },
    plugins: [framePlugin, chiTitlePlugin],
  };
}

const canvasStyle = (left: number, top: number, w: number, h: number): React.CSSProperties => ({
  position: 'absolute', left, top, width: w, height: h, display: 'block',
});

export default function App() {
  const tl = useRef<HTMLCanvasElement>(null);
  const tr = useRef<HTMLCanvasElement>(null);
  const bl = useRef<HTMLCanvasElement>(null);
  const br = useRef<HTMLCanvasElement>(null);

  useEffect(() => {
    const charts = [
      new Chart(tl.current as HTMLCanvasElement, topConfig(fitsQ2, -0.195, 3.845, 20, true)),
      new Chart(tr.current as HTMLCanvasElement, topConfig(fitsQ1, -0.2, 3.875, 17, false)),
      new Chart(bl.current as HTMLCanvasElement, resConfig(resQ2, {
        padTop: 39, rightPad: 20, xHeight: 53, xMin: -0.195, xMax: 3.845, yMin: -6.32, yMax: 5.26, titleY: 27.3, titlePb: 10.4, chi: '1.75',
      })),
      new Chart(br.current as HTMLCanvasElement, resConfig(resQ1, {
        padTop: 47, rightPad: 16, xHeight: 45, xMin: -0.2, xMax: 3.875, yMin: -9.95, yMax: 6.25, titleY: 35.7, titlePb: 1.4, chi: '3.75',
      })),
    ];
    return () => charts.forEach((c) => c.destroy());
  }, []);

  return (
    <div style={{ position: 'absolute', left: 0, top: 0, width: 1217, height: 525, background: '#fff', overflow: 'hidden', fontFamily: FONT, color: INK }}>
      <canvas ref={tl} width={540} height={350} style={canvasStyle(0, 0, 540, 350)} />
      <canvas ref={tr} width={540} height={350} style={canvasStyle(540, 0, 540, 350)} />
      <canvas ref={bl} width={540} height={180} style={canvasStyle(0, 345, 540, 180)} />
      <canvas ref={br} width={540} height={180} style={canvasStyle(540, 345, 540, 180)} />

      <div style={{ position: 'absolute', left: 395, top: 25, fontFamily: 'Lato, sans-serif', fontWeight: 700, fontSize: 20, lineHeight: '20px', color: '#ff0000', whiteSpace: 'nowrap' }}>Model Q2</div>
      <div style={{ position: 'absolute', left: 935, top: 25, fontFamily: 'Lato, sans-serif', fontWeight: 700, fontSize: 20, lineHeight: '20px', color: '#ff0000', whiteSpace: 'nowrap' }}>Model Q1</div>

      <div style={{ position: 'absolute', left: 1068, top: 330, width: 139, height: 194, border: '1px solid #d4d4d4', borderRadius: 4, background: '#fff', boxSizing: 'border-box' }}>
        {seriesLabels.map((lab, i) => (
          <div key={lab} style={{ position: 'absolute', left: 0, top: 5.5 + i * 26.5, height: 20, width: '100%' }}>
            <div style={{ position: 'absolute', left: 4, top: 9, width: 33, height: 2, background: seriesColors[i] }} />
            <div style={{ position: 'absolute', left: 48, top: 0, lineHeight: '20px', fontSize: 16.5, whiteSpace: 'nowrap' }}>
              <i>ñ</i><sub style={{ fontSize: 11, verticalAlign: '-3px', lineHeight: 0 }}>0</sub>={lab}
            </div>
          </div>
        ))}
      </div>
    </div>
  );
}
